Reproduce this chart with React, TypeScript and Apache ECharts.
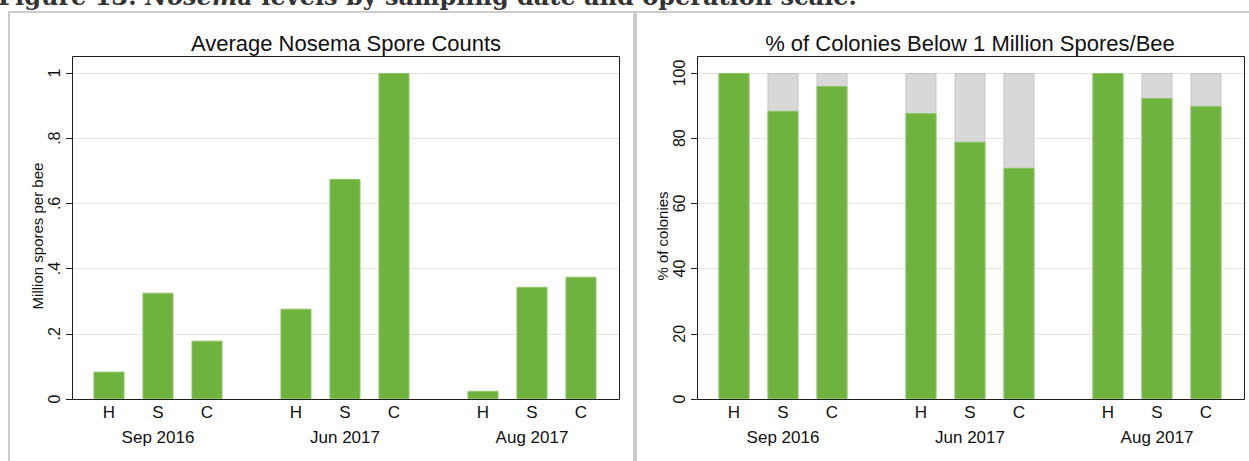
import React, { useEffect, useRef } from "react";
import * as echarts from "echarts";

// ---- data ----
const groups = ["Sep 2016", "Jun 2017", "Aug 2017"];
const scales = ["H", "S", "C"];
// average Nosema spore counts (million spores per bee), per group, in H/S/C order
const sporesSep2016 = [0.084, 0.326, 0.179];
const sporesJun2017 = [0.277, 0.675, 1.0];
const sporesAug2017 = [0.025, 0.344, 0.375];
// % of colonies below 1 million spores/bee
const pctSep2016 = [100, 88.4, 96.0];
const pctJun2017 = [87.7, 78.9, 70.9];
const pctAug2017 = [100, 92.3, 89.9];
const leftTicks = [0, 0.2, 0.4, 0.6, 0.8, 1];
const rightTicks = [0, 20, 40, 60, 80, 100];
const ALL_COLONIES = 100; // each bar totals 100 % (grey part = colonies above 1 million)

const sporesByGroup = [sporesSep2016, sporesJun2017, sporesAug2017];
const pctByGroup = [pctSep2016, pctJun2017, pctAug2017];

// layout constants (bar slot units)
const GROUP_STEP = 3.816;
const X_MIN = -0.755;
const X_MAX = 10.408;

const FONT = '"Liberation Sans", Arial, Helvetica, sans-serif';
const SERIF = '"DejaVu Serif", "Liberation Serif", serif';
const GREEN = "#6fb33f";
const GRAY = "#d8d8d8";

function pos(g: number, i: number) {
  return g * GROUP_STEP + i;
}

function labelFor(g: number, i: number) {
  if (i === 1) return `{a|${scales[i]}}\n{b|${groups[g]}}`;
  return `{a|${scales[i]}}`;
}

const richLabel = {
  a: { fontSize: 17, lineHeight: 19, color: "#111", fontFamily: FONT },
  b: { fontSize: 17, lineHeight: 30, color: "#111", fontFamily: FONT },
};

export default function App() {
  const ref = useRef<HTMLDivElement>(null);
  useEffect(() => {
    if (!ref.current) return;
    const chart = echarts.init(ref.current, undefined, { renderer: "svg" });

    const leftData: any[] = [];
    const rightGreen: any[] = [];
    const rightGray: any[] = [];
    groups.forEach((_, g) => {
      scales.forEach((_, i) => {
        const lbl = {
          show: true,
          position: "bottom",
          distance: 4,
          formatter: labelFor(g, i),
          rich: richLabel,
        };
        leftData.push({ value: [pos(g, i), sporesByGroup[g][i]], label: lbl });
        rightGreen.push({ value: [pos(g, i), pctByGroup[g][i]], label: lbl });
        rightGray.push({ value: [pos(g, i), ALL_COLONIES] });
      });
    });

    const yAxisCommon = (gridIndex: number, name: string, ticks: number[], fmt: (v: number) => string) => ({
      type: "value",
      gridIndex,
      min: ticks[0],
      max: ticks[ticks.length - 1],
      interval: ticks[1] - ticks[0],
      name,
      nameLocation: "middle",
      nameGap: 26,
      nameTextStyle: { fontSize: 15, color: "#111", fontFamily: FONT },
      axisLine: { show: false, onZero: false },
      axisTick: { show: true, length: 6, lineStyle: { color: "#222", width: 1 } },
      axisLabel: {
        rotate: 90,
        margin: 10,
        fontSize: 16,
        color: "#111",
        fontFamily: FONT,
        formatter: fmt,
      },
      splitLine: { show: true, lineStyle: { color: "#e4e4e4", width: 1 } },
    });

    const xAxisCommon = (gridIndex: number) => ({
      type: "value",
      gridIndex,
      min: X_MIN,
      max: X_MAX,
      show: false,
      axisLine: { onZero: false },
    });

    const barStyle = { color: GREEN, borderColor: "#8cc463", borderWidth: 1 };

    const option: any = {
      animation: false,
      backgroundColor: "#ffffff",
      grid: [
        { left: 72, top: 73, width: 547, height: 326 },
        { left: 697, top: 73, width: 547, height: 326 },
      ],
      xAxis: [xAxisCommon(0), xAxisCommon(1)],
      yAxis: [
        yAxisCommon(0, "Million spores per bee", leftTicks, (v: number) => {
          const n = Number(v.toFixed(1));
          if (n === 0) return "0";
          if (n === 1) return "1";
          return String(n).replace(/^0\./, ".");
        }),
        yAxisCommon(1, "% of colonies", rightTicks, (v: number) => String(Math.round(v))),
      ],
      series: [
        {
          type: "bar",
          xAxisIndex: 0,
          yAxisIndex: 0,
          barWidth: 31,
          itemStyle: barStyle,
          data: leftData,
        },
        {
          type: "bar",
          xAxisIndex: 1,
          yAxisIndex: 1,
          barWidth: 31,
          barGap: "-100%",
          itemStyle: { color: GRAY, borderColor: "#c4c4c4", borderWidth: 1 },
          data: rightGray,
        },
        {
          type: "bar",
          xAxisIndex: 1,
          yAxisIndex: 1,
          barWidth: 31,
          barGap: "-100%",
          itemStyle: barStyle,
          data: rightGreen,
        },
      ],
      graphic: [
        // caption (cut off at top)
        {
          type: "text",
          left: -2,
          top: -15.5,
          z: 10,
          style: {
            text: "{n|Figure 13: }{i|Nosema}{n| levels by sampling date and operation scale.}",
            rich: {
              n: { fontSize: 24, fontWeight: "bold", fontFamily: SERIF, fill: "#333" },
              i: { fontSize: 24, fontWeight: "bold", fontStyle: "italic", fontFamily: SERIF, fill: "#333" },
            },
          },
        },
        // panel borders
        { type: "rect", shape: { x: 8, y: 11, width: 1241, height: 2 }, style: { fill: "#cccccc" } },
        { type: "rect", shape: { x: 8, y: 11, width: 2, height: 450 }, style: { fill: "#cccccc" } },
        { type: "rect", shape: { x: 633, y: 11, width: 4, height: 450 }, style: { fill: "#cccccc" } },
        // plot frames
        { type: "rect", z: 10, shape: { x: 72.5, y: 56.5, width: 547, height: 343 }, style: { fill: "none", stroke: "#1e1e1e", lineWidth: 1 } },
        { type: "rect", z: 10, shape: { x: 697.5, y: 56.5, width: 547, height: 343 }, style: { fill: "none", stroke: "#1e1e1e", lineWidth: 1 } },
        // titles
        {
          type: "text",
          x: 346,
          y: 43,
          style: { text: "Average Nosema Spore Counts", fontSize: 22, fontFamily: FONT, fill: "#111", align: "center", verticalAlign: "middle" },
        },
        {
          type: "text",
          x: 970,
          y: 43,
          style: { text: "% of Colonies Below 1 Million Spores/Bee", fontSize: 22, fontFamily: FONT, fill: "#111", align: "center", verticalAlign: "middle" },
        },
      ],
    };
    chart.setOption(option);
    return () => chart.dispose();
  }, []);

  return (
    <div
      ref={ref}
      style={{ position: "fixed", left: 0, top: 0, width: 1249, height: 461, background: "#fff" }}
    />
  );
}
